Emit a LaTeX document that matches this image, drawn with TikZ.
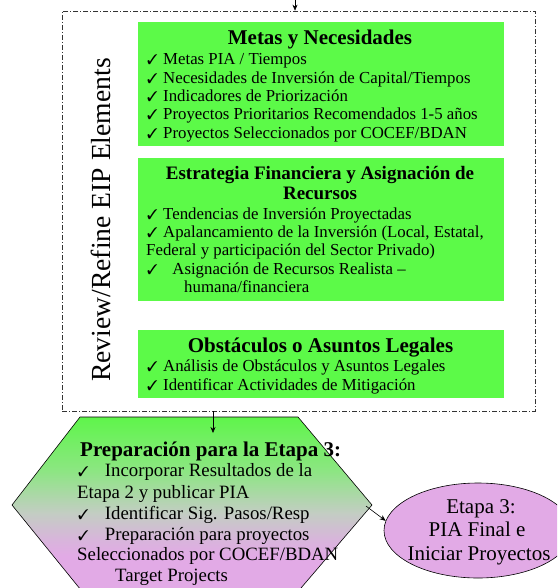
\documentclass[tikz,border=0pt]{standalone}
\usepackage{fontspec}
\setmainfont{Liberation Serif}
\usepackage{pifont}
\usetikzlibrary{arrows.meta,shapes.geometric}
\definecolor{boxgreen}{RGB}{92,250,72}
\definecolor{plumfill}{RGB}{226,170,230}
\definecolor{hexA}{RGB}{95,245,75}
\definecolor{hexB}{RGB}{140,230,130}
\definecolor{hexC}{RGB}{195,205,195}
\definecolor{hexD}{RGB}{215,182,218}
\pgfdeclareverticalshading{hexshade}{100bp}{color(0bp)=(plumfill); color(36bp)=(plumfill); color(41bp)=(hexD); color(48bp)=(hexC); color(60bp)=(hexB); color(75bp)=(hexA); color(100bp)=(hexA)}
\newcommand{\mychk}[1][16pt]{\makebox[#1][l]{\fontsize{14}{14}\selectfont\ding{51}}}
\begin{document}
\begin{tikzpicture}[x=1pt,y=-1pt,
  greenbox/.style={draw=none,fill=boxgreen,minimum width=366pt,inner sep=0pt},
  ttl/.style={font=\fontsize{21}{21}\selectfont\bfseries,inner sep=0pt,anchor=base},
  ttlb/.style={font=\fontsize{19}{19}\selectfont\bfseries,inner sep=0pt,anchor=base},
  itm/.style={font=\fontsize{16.8}{16.8}\selectfont,inner sep=0pt,anchor=base west},
  hitm/.style={font=\fontsize{18.8}{18.8}\selectfont,inner sep=0pt,anchor=base west},
  etxt/.style={font=\fontsize{21}{21}\selectfont,inner sep=0pt,anchor=base},
  arr/.style={draw=black,line width=0.6pt,-{Stealth[length=6pt,width=5pt]}}]
\clip (0,0) rectangle (557,588);
\fill[white] (0,0) rectangle (557,588);

% dash-dot frame
\node[draw=black!80,line width=0.6pt,dash pattern=on 5pt off 2pt on 1pt off 2pt,
      minimum width=473pt,minimum height=400pt,inner sep=0pt] (review) at (298.5,211) {};

% rotated label
\node[font=\fontsize{27.6}{27.6}\selectfont,rotate=90,anchor=base,inner sep=0pt] (lbl) at (110,220) {Review/Refine EIP Elements};

% green boxes
\node[greenbox,minimum height=124pt] (g1) at (321,84) {};
\node[greenbox,minimum height=143pt] (g2) at (321,229.5) {};
\node[greenbox,minimum height=68pt] (g3) at (321,364) {};

% box 1
\node[ttl] (t1) at (320,45) {Metas y Necesidades};
\node[itm] (a1) at (147,65) {\mychk Metas PIA / Tiempos};
\node[itm] (a2) at (147,83.3) {\mychk Necesidades de Inversión de Capital/Tiempos};
\node[itm] (a3) at (147,101.6) {\mychk Indicadores de Priorización};
\node[itm] (a4) at (147,120) {\mychk Proyectos Prioritarios Recomendados 1-5 años};
\node[itm] (a5) at (147,138.3) {\mychk Proyectos Seleccionados por COCEF/BDAN};

% box 2
\node[ttlb] (t2a) at (320,179.3) {Estrategia Financiera y Asignación de};
\node[ttlb] (t2b) at (320,199.3) {Recursos};
\node[itm] (b1) at (147,219) {\mychk Tendencias de Inversión Proyectadas};
\node[itm] (b2) at (147,237.3) {\mychk Apalancamiento de la Inversión (Local, Estatal,};
\node[itm] (b3) at (146,255.7) {Federal y participación del Sector Privado)};
\node[itm] (b4) at (147,274) {\mychk[21pt] Asignación de Recursos Realista –};
\node[itm] (b5) at (184,292.3) {humana/financiera};

% box 3
\node[ttl] (t3) at (320.5,352.7) {Obstáculos o Asuntos Legales};
\node[itm] (c1) at (147,371.7) {\mychk Análisis de Obstáculos y Asuntos Legales};
\node[itm] (c2) at (147,390) {\mychk Identificar Actividades de Mitigación};

% hexagon
\shadedraw[shading=hexshade,draw=black,line width=0.6pt]
  (80,417) -- (298,417) -- (372,505) -- (295,595) -- (85,595) -- (12,505) -- cycle;
\node[ttl,anchor=base west] (h0) at (80,456) {Preparación para la Etapa 3:};
\node[hitm] (h1) at (78,476.7) {\mychk[22pt] Incorporar Resultados de la};
\node[hitm] (h2) at (77,498.3) {Etapa 2 y publicar PIA};
\node[hitm] (h3) at (78,519) {\mychk[22pt] Identificar Sig. Pasos/Resp};
\node[hitm] (h4) at (78,540) {\mychk[22pt] Preparación para proyectos};
\node[hitm] (h5) at (77,560.7) {Seleccionados por COCEF/BDAN};
\node[hitm] (h6) at (115,581.7) {Target Projects};

% ellipse
\node[ellipse,draw=black,line width=0.6pt,fill=plumfill,minimum width=188pt,minimum height=95pt,inner sep=0pt] (etapa) at (478,530.5) {};
\node[etxt] (e1) at (481,513.3) {Etapa 3:};
\node[etxt] (e2) at (477,536.7) {PIA Final e};
\node[etxt] (e3) at (479,560) {Iniciar Proyectos};

% connectors
\coordinate (topin) at (295,-2);
\coordinate (hexin) at (213,433);
\coordinate (hexr) at (366,506);
\draw[arr] (topin) -- (topin |- review.north);
\draw[arr] (hexin |- review.south) -- (hexin);
\draw[arr] (hexr) -- (etapa.174);
\end{tikzpicture}
\end{document}
